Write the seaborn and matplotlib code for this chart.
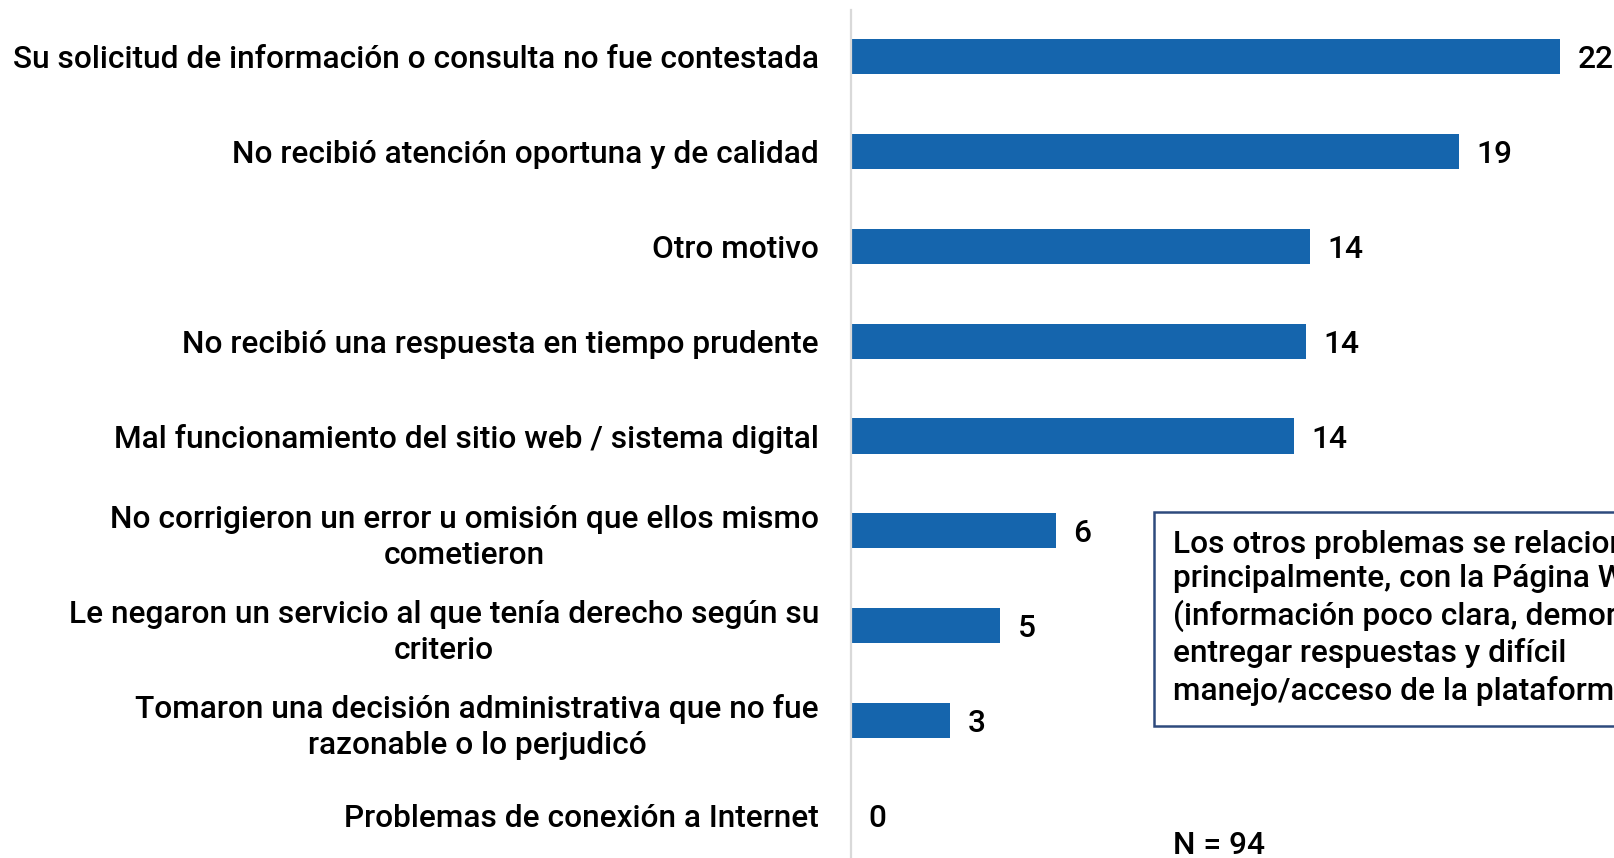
import matplotlib
matplotlib.use("Agg")
import matplotlib.pyplot as plt
import seaborn as sns
import pandas as pd

categories = [
    "Su solicitud de información o consulta no fue contestada",
    "No recibió atención oportuna y de calidad",
    "Otro motivo",
    "No recibió una respuesta en tiempo prudente",
    "Mal funcionamiento del sitio web / sistema digital",
    "No corrigieron un error u omisión que ellos mismo\ncometieron",
    "Le negaron un servicio al que tenía derecho según su\ncriterio",
    "Tomaron una decisión administrativa que no fue\nrazonable o lo perjudicó",
    "Problemas de conexión a Internet",
]
values = [22.0, 18.87, 14.24, 14.11, 13.76, 6.35, 4.63, 3.07, 0.0]

note_text = ("Los otros problemas se relacionan,\n"
             "principalmente, con la Página Web\n"
             "(información poco clara, demora en\n"
             "entregar respuestas y difícil\n"
             "manejo/acceso de la plataforma).")
n_text = "N = 94"

BAR = "#1565ad"
FONT = ["Roboto", "DejaVu Sans"]
FS = 22.8
WEIGHT = "medium"

sns.set_style("white")
plt.rcParams["font.family"] = FONT
plt.rcParams["font.weight"] = WEIGHT

df = pd.DataFrame({"cat": categories, "val": values})

fig = plt.figure(figsize=(16.15, 8.58), dpi=100)
ax = fig.add_axes([851 / 1615, 1 - 862 / 858, 1 - 851 / 1615, (862 - 10) / 858])

sns.barplot(data=df, x="val", y="cat", orient="h", color=BAR, width=0.37,
            saturation=1, ax=ax, edgecolor="none")

ax.set_xlim(0, (1615 - 851) / 32.23)
ax.set_ylim(len(categories) - 0.51, -0.49)
ax.set_xlabel("")
ax.set_ylabel("")
ax.set_xticks([])
for s in ["top", "right", "bottom"]:
    ax.spines[s].set_visible(False)
ax.spines["left"].set_color("#d9d9d9")
ax.spines["left"].set_linewidth(1.6)
ax.tick_params(axis="y", length=0, pad=23, labelsize=FS, labelcolor="black")
for lab in ax.get_yticklabels():
    lab.set_multialignment("center")
    lab.set_linespacing(1.3)
    lab.set_fontweight(WEIGHT)
    if "\n" in lab.get_text():
        lab.set_verticalalignment("center_baseline")

anns = ax.bar_label(ax.containers[0], labels=[f"{v:.0f}" for v in values],
                    padding=12.5, fontsize=FS, color="black",
                    fontweight=WEIGHT)
for a in anns:
    a.set_verticalalignment("center_baseline")

ax.text(10.0, 5.92, note_text, ha="left", va="center", fontsize=FS,
        linespacing=1.25, color="black", clip_on=False, fontweight=WEIGHT,
        bbox=dict(boxstyle="square,pad=0.6", facecolor="white",
                  edgecolor="#2e4a7d", linewidth=1.8))
ax.text(10.0, 8.32, n_text, ha="left", va="center", fontsize=FS,
        color="black", clip_on=False, fontweight=WEIGHT)

fig.savefig("out.png", dpi=100)
